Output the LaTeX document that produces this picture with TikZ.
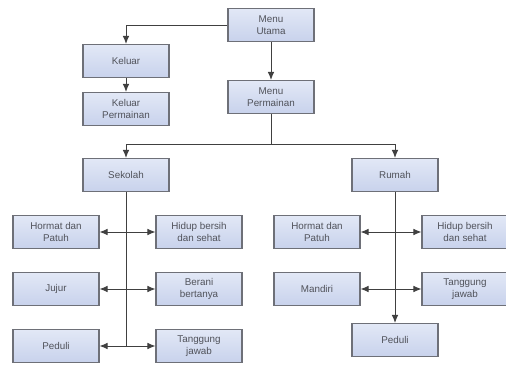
\documentclass[tikz,border=0pt]{standalone}
\usepackage{fontspec}
\setmainfont{Liberation Sans}
\usetikzlibrary{arrows.meta,positioning}
\definecolor{boxtop}{RGB}{226,232,246}
\definecolor{boxbot}{RGB}{200,210,236}
\definecolor{boxline}{RGB}{110,112,120}
\definecolor{txt}{RGB}{80,82,90}
\tikzset{
  box/.style  ={draw=boxline, line width=0.6pt, top color=boxtop, bottom color=boxbot, align=center,
                font=\fontsize{5.6}{6.8}\selectfont, text=txt, minimum width=1.72cm, minimum height=0.66cm, inner sep=1pt},
  link/.style ={draw=black!75, line width=0.5pt},
  flow/.style ={link, -{Latex[length=1.6mm,width=1.3mm]}},
  both/.style ={link, {Latex[length=1.6mm,width=1.3mm]}-{Latex[length=1.6mm,width=1.3mm]}}
}

\begin{document}
\begin{tikzpicture}[x=0.02cm, y=-0.02cm]
  \useasboundingbox[fill=white] (0,0) rectangle (506,367);
  % top level
  \node[box] (utama)  at (271,25)  {Menu\\Utama};
  \node[box] (mperm)  at (271,97)  {Menu\\Permainan};
  \node[box] (keluar) at (126,61)  {Keluar};
  \node[box] (kperm)  at (126,109) {Keluar\\Permainan};
  % sekolah
  \node[box] (sekolah) at (126,175) {Sekolah};
  \node[box] (shormat) at (56,232)  {Hormat dan\\Patuh};
  \node[box] (shidup)  at (199,232) {Hidup bersih\\dan sehat};
  \node[box] (sjujur)  at (56,289)  {Jujur};
  \node[box] (sberani) at (199,289) {Berani\\bertanya};
  \node[box] (speduli) at (56,346)  {Peduli};
  \node[box] (stjawab) at (199,346) {Tanggung\\jawab};
  % rumah
  \node[box] (rumah)   at (395,175) {Rumah};
  \node[box] (rhormat) at (317,232) {Hormat dan\\Patuh};
  \node[box] (rhidup)  at (465,232) {Hidup bersih\\dan sehat};
  \node[box] (rmandiri) at (317,289) {Mandiri};
  \node[box] (rtjawab) at (465,289) {Tanggung\\jawab};
  \node[box] (rpeduli) at (395,340) {Peduli};
  \coordinate (split) at (271,144);
  \coordinate (sbot) at (126,346);
  \draw[flow] (utama.west) -| (keluar.north);
  \draw[flow] (keluar) -- (kperm);
  \draw[flow] (utama) -- (mperm);
  \draw[link] (mperm.south) -- (split);
  \draw[flow] (split) -| (sekolah.north);
  \draw[flow] (split) -| (rumah.north);
  \draw[link] (sekolah.south) -- (sbot);
  \draw[both] (shormat) -- (shidup);
  \draw[both] (sjujur) -- (sberani);
  \draw[both] (speduli) -- (stjawab);
  \draw[flow] (rumah) -- (rpeduli);
  \draw[both] (rhormat) -- (rhidup);
  \draw[both] (rmandiri) -- (rtjawab);
\end{tikzpicture}
\end{document}
